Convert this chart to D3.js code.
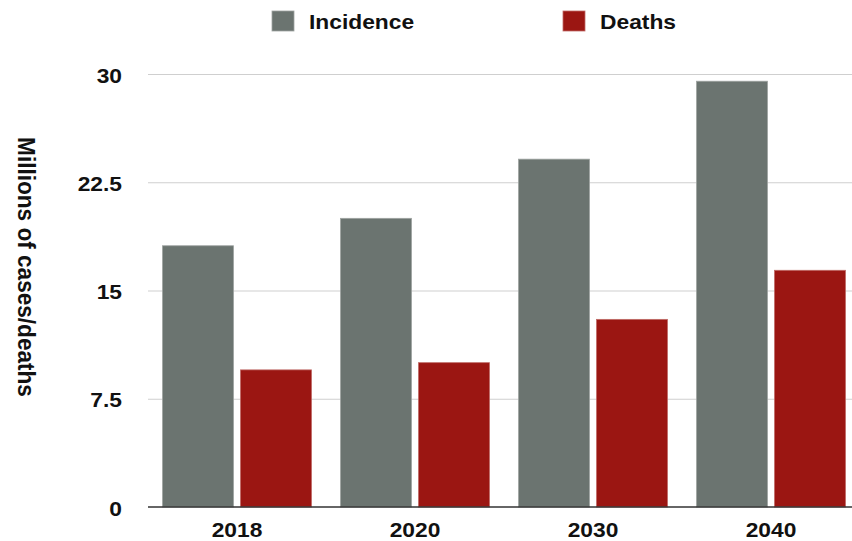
<!DOCTYPE html>
<html>
<head>
<meta charset="utf-8">
<script src="https://cdn.jsdelivr.net/npm/d3@7"></script>
<style>
  html, body { margin: 0; padding: 0; background: #fff; }
  svg { display: block; }
  text { font-family: "Liberation Sans", Arial, Helvetica, sans-serif; font-weight: bold; fill: #111; }
</style>
</head>
<body>
<svg id="chart" width="852" height="541"></svg>
<script>
const years = ["2018", "2020", "2030", "2040"];
const seriesNames = ["Incidence", "Deaths"];
const incidence = [18.1, 20.0, 24.1, 29.5];
const deaths = [9.5, 10.0, 13.0, 16.4];
const yTicks = [0, 7.5, 15, 22.5, 30];
const yTickLabels = ["0", "7.5", "15", "22.5", "30"];
const colors = ["#6b7470", "#9b1612"];
const edgeColors = ["#9ea3a1", "#c06a66"];

const svg = d3.select("#chart");
const W = 852, H = 541;
const mLeft = 148, mRight = 860, mTop = 74, mBottom = 507;
const sx = 1.14; // horizontal text stretch

const data = years.map((yr, i) => ({ year: yr, values: [incidence[i], deaths[i]] }));

const x0 = d3.scaleBand().domain(years).range([mLeft, mRight]).paddingInner(0.163).paddingOuter(0.0815);
const x1 = d3.scaleBand().domain(seriesNames).range([0, x0.bandwidth()]).paddingInner(0.09).paddingOuter(0);
const y = d3.scaleLinear().domain([0, 30]).range([mBottom, mTop]);

// gridlines
svg.append("g")
  .selectAll("line")
  .data(yTicks.filter(t => t > 0))
  .join("line")
  .attr("x1", mLeft).attr("x2", W)
  .attr("y1", d => y(d) + 0.5).attr("y2", d => y(d) + 0.5)
  .attr("stroke", "#cfcfcf").attr("stroke-width", 1.2);

// y axis labels
const yAxis = d3.axisLeft(y).tickValues(yTicks).tickFormat((d, i) => yTickLabels[i]).tickSize(0).tickPadding(0);
const gy = svg.append("g").attr("transform", `translate(${mLeft - 26},0)`).call(yAxis);
gy.select(".domain").remove();
gy.selectAll("text")
  .attr("x", 0)
  .attr("dy", "0.4em")
  .attr("transform", `scale(${sx},1)`)
  .style("font-size", "20px")
  .style("font-family", "'Liberation Sans', Arial, sans-serif")
  .style("font-weight", "bold")
  .attr("fill", "#111");

// bars
const groups = svg.append("g").selectAll("g")
  .data(data).join("g")
  .attr("transform", d => `translate(${x0(d.year)},0)`);
groups.selectAll("rect")
  .data(d => d.values.map((v, i) => ({ key: seriesNames[i], value: v, i })))
  .join("rect")
  .attr("x", d => x1(d.key))
  .attr("y", d => y(d.value))
  .attr("width", x1.bandwidth())
  .attr("height", d => y(0) - y(d.value))
  .attr("fill", d => colors[d.i])
  .attr("stroke", d => edgeColors[d.i])
  .attr("stroke-width", 0.8);

// baseline
svg.append("line")
  .attr("x1", mLeft).attr("x2", W)
  .attr("y1", y(0)).attr("y2", y(0))
  .attr("stroke", "#333").attr("stroke-width", 1.6);

// x axis labels
const xAxis = d3.axisBottom(x0).tickSize(0).tickPadding(0);
const gx = svg.append("g").attr("transform", `translate(0,${mBottom})`).call(xAxis);
gx.select(".domain").remove();
gx.selectAll("text")
  .attr("y", 30)
  .attr("dy", 0)
  .attr("transform", `scale(${sx},1)`)
  .style("font-size", "20px")
  .style("font-family", "'Liberation Sans', Arial, sans-serif")
  .style("font-weight", "bold")
  .attr("fill", "#111");

// y axis title
svg.append("text")
  .attr("transform", `translate(18,267) scale(1.09,1) rotate(90)`)
  .attr("text-anchor", "middle")
  .style("font-size", "22.6px")
  .text("Millions of cases/deaths");

// legend
const legendX = [272, 563];
const leg = svg.append("g").selectAll("g")
  .data(seriesNames).join("g")
  .attr("transform", (d, i) => `translate(${legendX[i]},0)`);
leg.append("rect")
  .attr("x", 0).attr("y", 11).attr("width", 22).attr("height", 20)
  .attr("fill", (d, i) => colors[i])
  .attr("stroke", (d, i) => edgeColors[i]).attr("stroke-width", 0.8);
leg.append("text")
  .attr("transform", `translate(37,29) scale(${sx},1)`)
  .style("font-size", "20px")
  .text(d => d);
</script>
</body>
</html>
